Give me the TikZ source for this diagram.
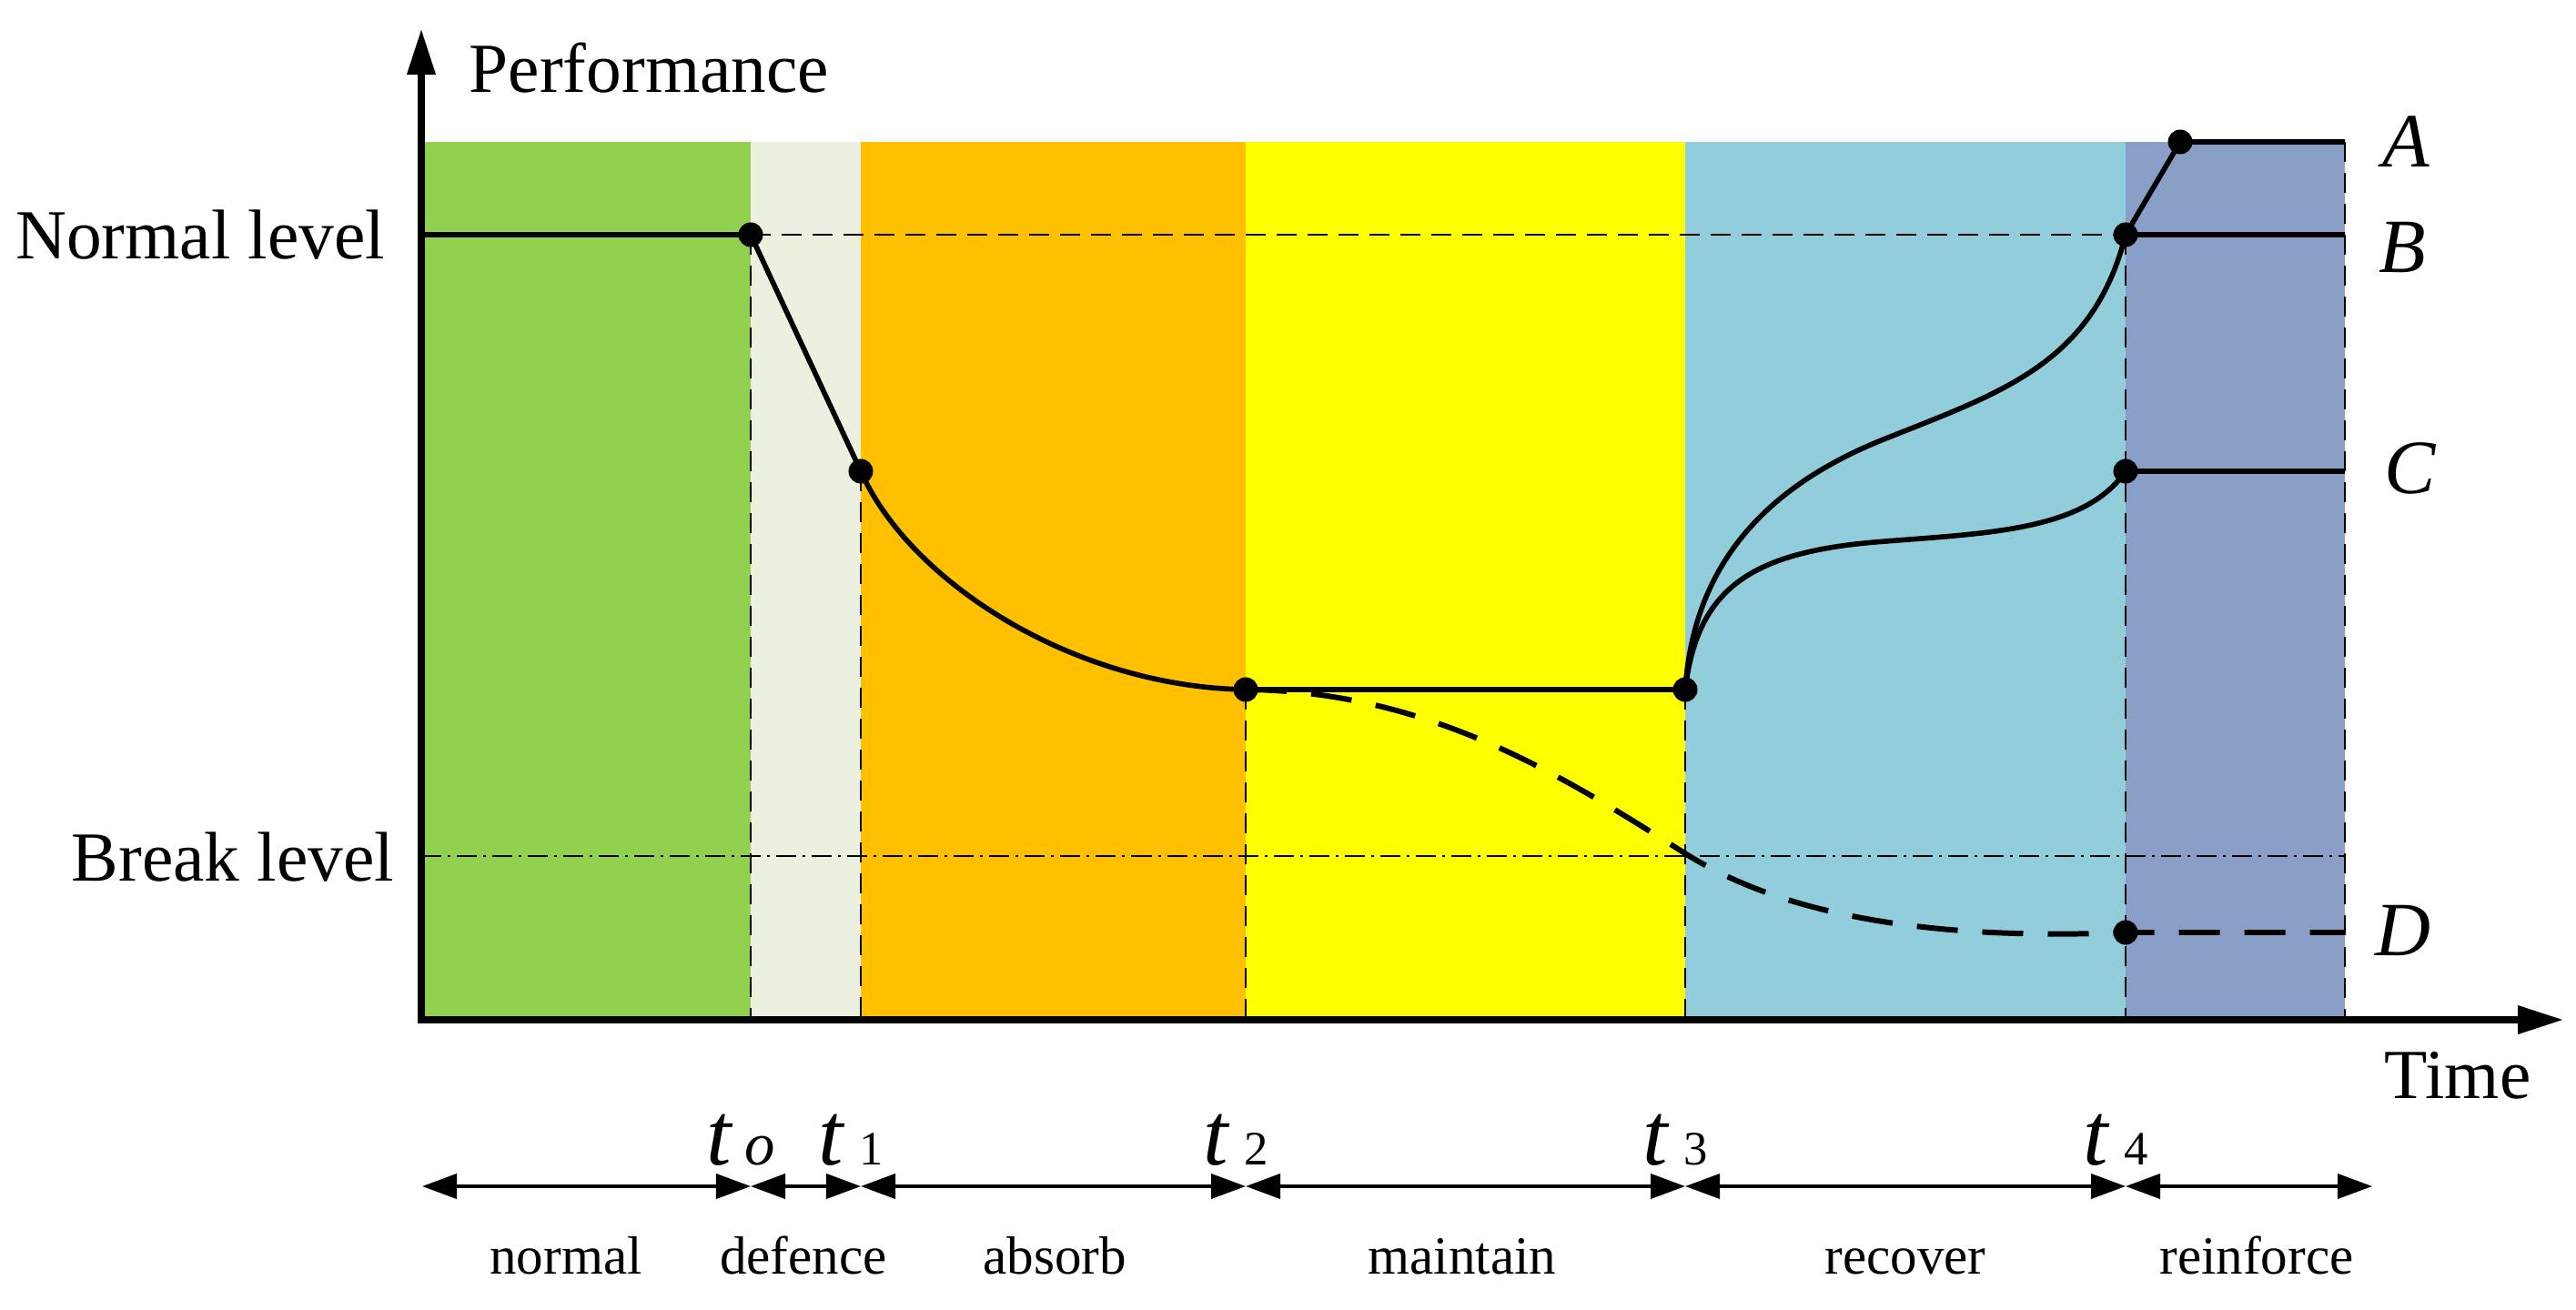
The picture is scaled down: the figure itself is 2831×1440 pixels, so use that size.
\documentclass[tikz,border=0pt]{standalone}
\usepackage{fontspec}
\setmainfont{Liberation Serif}
\usetikzlibrary{arrows.meta}
\definecolor{cNormal}{HTML}{92D050}
\definecolor{cDefence}{HTML}{EBF1DE}
\definecolor{cAbsorb}{HTML}{FFC000}
\definecolor{cMaintain}{HTML}{FFFF00}
\definecolor{cRecover}{HTML}{92CDDC}
\definecolor{cReinforce}{HTML}{8A9FC8}
\newcommand\tlab[1]{{\fontsize{28}{30}\selectfont\itshape t}\hspace{5pt}{\fontsize{15}{16}\selectfont #1}}
\newcommand\tlabo{{\fontsize{28}{30}\selectfont\itshape t}\hspace{4pt}{\fontsize{19}{20}\selectfont\itshape o}}
\begin{document}
\begin{tikzpicture}[x=0.01cm,y=-0.01cm,
  guide/.style={line width=0.8pt, dash pattern=on 0.22cm off 0.12cm},
  brk/.style={line width=0.8pt, dash pattern=on 0.22cm off 0.07cm on 0.03cm off 0.07cm},
  curve/.style={line width=1.6pt},
  dcurve/.style={line width=1.7pt, dash pattern=on 0.45cm off 0.27cm},
  dot/.style={circle, fill=black, inner sep=0pt, minimum size=0.27cm},
  axisline/.style={line width=2pt, -{Triangle[length=0.5cm,width=0.3cm]}},
  spanline/.style={line width=1.1pt, {Triangle[length=0.38cm,width=0.27cm]}-{Triangle[length=0.38cm,width=0.27cm]}},
  big/.style={font=\fontsize{22}{26}\selectfont, inner sep=0pt},
  letter/.style={font=\fontsize{24}{28}\selectfont\itshape, inner sep=0pt, anchor=base west},
  phase/.style={font=\fontsize{16.8}{20}\selectfont, inner sep=0pt, anchor=base},
  tnode/.style={inner sep=0pt, anchor=base}
]
\useasboundingbox[fill=white] (0,0) rectangle (2831,1440);

% phase backgrounds
\fill[cNormal]    (463,156)  rectangle (825,1121);
\fill[cDefence]   (825,156)  rectangle (946,1121);
\fill[cAbsorb]    (946,156)  rectangle (1369,1121);
\fill[cMaintain]  (1369,156) rectangle (1852,1121);
\fill[cRecover]   (1852,156) rectangle (2336,1121);
\fill[cReinforce] (2336,156) rectangle (2577,1121);

% key coordinates
\coordinate (N0) at (463,258);
\coordinate (P0) at (825,258);
\coordinate (P1) at (946,518);
\coordinate (P2) at (1369,758);
\coordinate (P3) at (1852,758);
\coordinate (PB) at (2336,258);
\coordinate (PA) at (2396,156);
\coordinate (PC) at (2336,518);
\coordinate (PD) at (2336,1025);
\coordinate (EA) at (2577,156);
\coordinate (EB) at (2577,258);
\coordinate (EC) at (2577,518);
\coordinate (ED) at (2577,1025);
\coordinate (BK0) at (463,941);
\coordinate (BK1) at (2577,941);
\coordinate (X0) at (825,1121);
\coordinate (X1) at (946,1121);
\coordinate (X2) at (1369,1121);
\coordinate (X3) at (1852,1121);
\coordinate (X4) at (2336,1121);
\coordinate (XR) at (2577,1121);
\coordinate (O) at (463,1121);
\coordinate (Ytop) at (463,32);
\coordinate (Xend) at (2817,1121);

% guide lines
\draw[brk] (BK0) -- (BK1);
\draw[guide] (P0) -- (PB);
\draw[guide] (P0) -- (X0);
\draw[guide] (P1) -- (X1);
\draw[guide] (P2) -- (X2);
\draw[guide] (P3) -- (X3);
\draw[guide] (PB) -- (X4);
\draw[guide] (EA) -- (XR);

% performance curves
\draw[curve] (N0) -- (P0) -- (P1);
\draw[curve] (P1) .. controls (1000,640) and (1180,755) .. (P2);
\draw[curve] (P2) -- (P3);
\draw[dcurve] (P2) .. controls (1580,760) and (1730,862) .. (1855,940)
   .. controls (1950,999) and (2100,1035) .. (PD) -- (ED);
\draw[curve] (P3) .. controls (1860,640) and (1920,543) .. (2070,483)
   .. controls (2200,431) and (2300,400) .. (PB);
\draw[curve] (P3) .. controls (1865,650) and (1920,608) .. (2060,596)
   .. controls (2180,586) and (2290,585) .. (PC);
\draw[curve] (PB) -- (PA) -- (EA);
\draw[curve] (PB) -- (EB);
\draw[curve] (PC) -- (EC);

% dots
\node[dot] (dP0) at (P0) {};
\node[dot] (dP1) at (P1) {};
\node[dot] (dP2) at (P2) {};
\node[dot] (dP3) at (P3) {};
\node[dot] (dPB) at (PB) {};
\node[dot] (dPA) at (PA) {};
\node[dot] (dPC) at (PC) {};
\node[dot] (dPD) at (PD) {};

% axes
\draw[axisline] ([yshift=-1pt]O) -- (Ytop);
\draw[axisline] ([xshift=-1pt]O) -- (Xend);

% axis labels
\node[big, anchor=base west] (perf) at (515,102) {Performance};
\node[big, anchor=base west] (time) at (2620,1207) {Time};
\node[big, anchor=base east] (nlev) at (424,285) {Normal level};
\node[big, anchor=base east] (blev) at (434,968) {Break level};

% outcome letters
\node[letter] (lA) at (2618,184) {A};
\node[letter] (lB) at (2614,300) {B};
\node[letter] (lC) at (2620,543) {C};
\node[letter] (lD) at (2610,1050) {D};

% time marks
\coordinate (S0) at (464,1304);
\coordinate (S1) at (825,1304);
\coordinate (S2) at (946,1304);
\coordinate (S3) at (1369,1304);
\coordinate (S4) at (1852,1304);
\coordinate (S5) at (2336,1304);
\coordinate (S6) at (2607,1304);
\draw[spanline] (S0) -- (S1);
\draw[spanline] (S1) -- (S2);
\draw[spanline] (S2) -- (S3);
\draw[spanline] (S3) -- (S4);
\draw[spanline] (S4) -- (S5);
\draw[spanline] (S5) -- (S6);

\node[tnode] (t0) at (814,1280) {\tlabo};
\node[tnode] (t1) at (935,1280) {\tlab{1}};
\node[tnode] (t2) at (1358,1280) {\tlab{2}};
\node[tnode] (t3) at (1841,1280) {\tlab{3}};
\node[tnode] (t4) at (2325,1280) {\tlab{4}};

% phase names
\node[phase] (ph1) at (622,1400) {normal};
\node[phase] (ph2) at (883,1400) {defence};
\node[phase] (ph3) at (1159,1400) {absorb};
\node[phase] (ph4) at (1607,1400) {maintain};
\node[phase] (ph5) at (2094,1400) {recover};
\node[phase] (ph6) at (2480,1400) {reinforce};
\end{tikzpicture}
\end{document}
